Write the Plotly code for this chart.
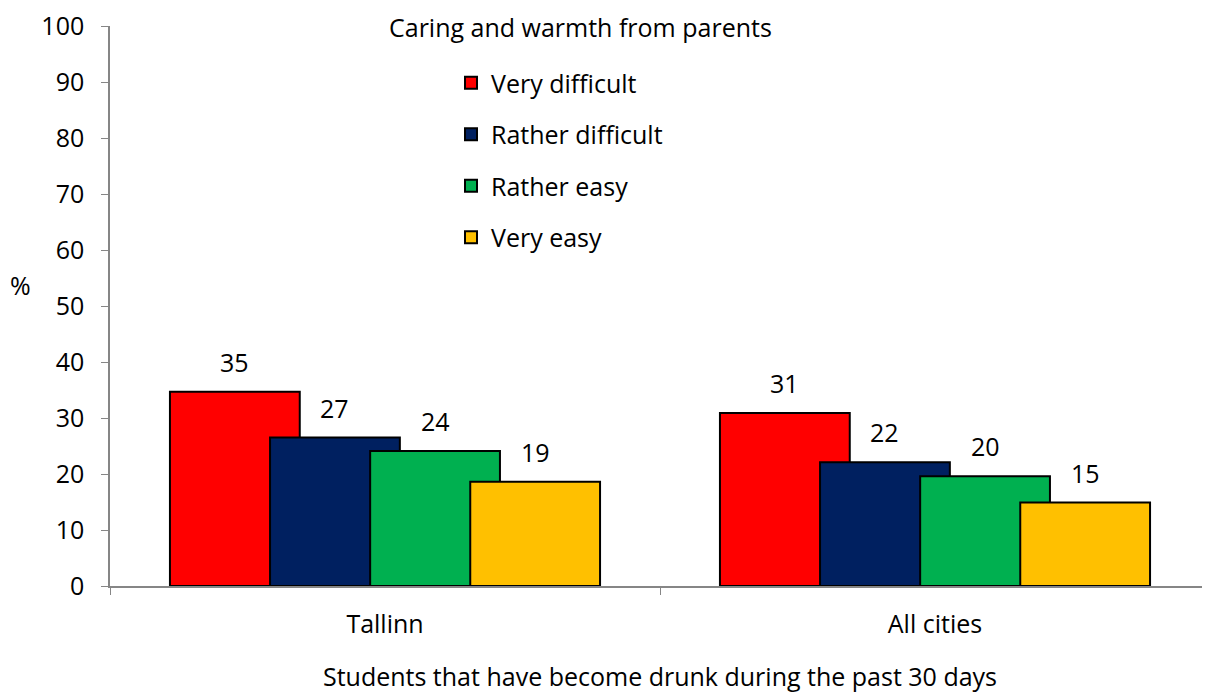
import plotly.graph_objects as go

categories = ["Tallinn", "All cities"]
series_names = ["Very difficult", "Rather difficult", "Rather easy", "Very easy"]
values = {
    "Very difficult": [34.7, 30.9],
    "Rather difficult": [26.5, 22.1],
    "Rather easy": [24.1, 19.6],
    "Very easy": [18.6, 14.9],
}
labels = {
    "Very difficult": ["35", "31"],
    "Rather difficult": ["27", "22"],
    "Rather easy": ["24", "20"],
    "Very easy": ["19", "15"],
}
colors = ["#FF0000", "#002060", "#00B050", "#FFC000"]
yticks = [0, 10, 20, 30, 40, 50, 60, 70, 80, 90, 100]

FONT = "Open Sans"
FS = 25
bar_w = 0.236
step = 0.182
start = -0.391
PH = 560  # plot height in px
PB = 586  # plot bottom on screen

fig = go.Figure()
xpos = list(range(len(categories)))
annotations = []
for i, name in enumerate(series_names):
    off = start + i * step
    fig.add_trace(go.Bar(
        x=xpos, y=values[name], name=name,
        offset=off, width=bar_w,
        marker=dict(color=colors[i], line=dict(color="black", width=2)),
        legendgroup=name,
    ))
    for j, v in enumerate(values[name]):
        annotations.append(dict(
            x=xpos[j] + off + bar_w / 2, y=v, xref="x", yref="y",
            text=labels[name][j], showarrow=False, yanchor="bottom",
            yshift=11, font=dict(family=FONT, size=FS, color="black")))

annotations.append(dict(x=(580 - 110) / 1100, y=(PB - 27) / PH, xref="paper", yref="paper",
                        text="Caring and warmth from parents", showarrow=False,
                        xanchor="center", yanchor="middle",
                        font=dict(family=FONT, size=FS, color="black")))
annotations.append(dict(x=(20 - 110) / 1100, y=(PB - 285) / PH, xref="paper", yref="paper",
                        text="%", showarrow=False, xanchor="center", yanchor="middle",
                        font=dict(family=FONT, size=FS, color="black")))

# page body has an 8px margin: figure sits at (8, 8)
fig.update_layout(
    width=1202, height=687,
    margin=dict(l=102, r=0, t=18, b=109, autoexpand=False),
    paper_bgcolor="white", plot_bgcolor="white",
    barmode="overlay",
    font=dict(family=FONT, size=FS, color="black"),
    showlegend=True,
    legend=dict(x=(451 - 110) / 1100, y=(PB - 60) / PH, xanchor="left", yanchor="top",
                tracegroupgap=16, font=dict(family=FONT, size=FS, color="black"),
                bgcolor="rgba(0,0,0,0)", traceorder="grouped"),
    annotations=annotations,
)
fig.update_xaxes(
    range=[-0.5, 1.5], tickvals=xpos, ticktext=categories, ticks="",
    showline=True, linecolor="#868686", linewidth=1.5, showgrid=False, zeroline=False,
    minor=dict(tickvals=[-0.5, 0.5, 1.5], ticks="outside", ticklen=7, tickcolor="#868686", showgrid=False),
    ticklabelstandoff=15,
    title=dict(text="Students that have become drunk during the past 30 days", standoff=30,
               font=dict(family=FONT, size=FS, color="black")),
)
fig.update_yaxes(
    range=[0, 100], tickvals=yticks, ticks="outside", ticklen=7, tickcolor="#868686",
    showline=True, linecolor="#868686", linewidth=1.5, showgrid=False, zeroline=False,
    ticklabelstandoff=12, ticklabeloverflow="allow",
)
fig.write_html("out.html")
